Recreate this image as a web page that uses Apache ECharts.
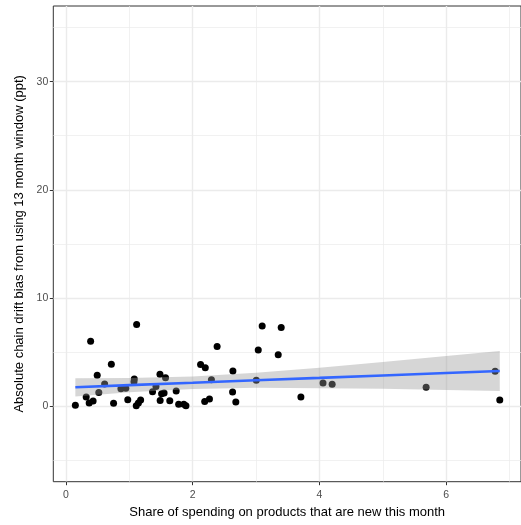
<!DOCTYPE html>
<html>
<head>
<meta charset="utf-8">
<script src="https://cdn.jsdelivr.net/npm/echarts@6/dist/echarts.min.js"></script>
<style>html,body{margin:0;padding:0;background:#fff}#c{width:521px;height:525px}</style>
</head>
<body>
<div id="c"></div>
<script>
// Scatter points: share of spending on new products (x) vs. absolute chain drift bias (y)
const pointX = [0.148,0.319,0.366,0.428,0.389,0.493,0.518,0.610,0.716,0.751,0.867,0.944,0.975,1.078,1.073,1.115,1.109,1.178,1.143,1.366,1.420,1.483,1.486,1.509,1.548,1.571,1.638,1.739,1.778,1.859,1.893,2.124,2.198,2.189,2.264,2.295,2.385,2.634,2.629,2.680,3.003,3.034,3.096,3.349,3.396,3.707,4.056,4.200,5.683,6.772,6.845];
const pointY = [0.06,0.83,0.28,0.46,6.00,2.85,1.25,2.04,3.86,0.25,1.59,1.64,0.57,2.50,2.25,7.53,0.03,0.56,0.28,1.33,1.81,2.94,0.51,1.14,1.20,2.61,0.49,1.39,0.17,0.16,0.03,3.84,3.54,0.42,0.65,2.44,5.51,3.24,1.30,0.37,2.38,5.19,7.39,4.75,7.26,0.83,2.13,2.01,1.73,3.22,0.56];

// Linear smooth with 95% band
const smoothX = [0.148,1,2,3,4,5,6,6.845];
const smoothFit = [1.73,1.93,2.15,2.38,2.60,2.83,3.05,3.24];
const smoothLow = [0.88,1.27,1.57,1.68,1.65,1.59,1.48,1.39];
const smoothHigh = [2.58,2.59,2.73,3.08,3.55,4.07,4.62,5.09];

// Ticks
const xTicks = [0,2,4,6];
const xMinor = [1,3,5,7];
const yTicks = [0,10,20,30];
const yMinor = [-5,5,15,25,35];

const points = pointX.map((x,i)=>[x,pointY[i]]);
const fitLine = smoothX.map((x,i)=>[x,smoothFit[i]]);
const bandData = smoothX.map((x,i)=>[x,smoothLow[i],smoothHigh[i]]);

const gridMajor = {color:'#EBEBEB', width:1.4, type:'solid'};
const gridMinor = {color:'#EBEBEB', width:0.7, type:'solid'};
const gridLines = []
  .concat(xTicks.map(v=>({xAxis:v, lineStyle:gridMajor})))
  .concat(xMinor.map(v=>({xAxis:v, lineStyle:gridMinor})))
  .concat(yTicks.map(v=>({yAxis:v, lineStyle:gridMajor})))
  .concat(yMinor.map(v=>({yAxis:v, lineStyle:gridMinor})));

const chart = echarts.init(document.getElementById('c'), null, {renderer:'canvas'});
const font = '"Liberation Sans", Arial, Helvetica, sans-serif';
chart.setOption({
  animation:false,
  backgroundColor:'#ffffff',
  grid:{left:53.3, top:6, right:-6.5, bottom:43.3, show:true, borderColor:'#333333', borderWidth:1, backgroundColor:'transparent'},
  xAxis:{
    type:'value', min:-0.2, max:7.18,
    name:'Share of spending on products that are new this month',
    nameLocation:'middle', nameGap:23,
    nameTextStyle:{color:'#000', fontSize:13, fontFamily:font},
    axisLine:{show:false, onZero:false},
    axisTick:{show:true, length:3.5, lineStyle:{color:'#333333', width:1}, customValues:xTicks},
    axisLabel:{color:'#4D4D4D', fontSize:10.5, fontFamily:font, margin:8, customValues:xTicks},
    splitLine:{show:false}
  },
  yAxis:{
    type:'value', min:-7, max:37,
    name:'Absolute chain drift bias from using 13 month window (ppt)',
    nameLocation:'middle', nameGap:23, nameRotate:90,
    nameTextStyle:{color:'#000', fontSize:13, fontFamily:font},
    axisLine:{show:false, onZero:false},
    axisTick:{show:true, length:3.5, lineStyle:{color:'#333333', width:1}, customValues:yTicks},
    axisLabel:{color:'#4D4D4D', fontSize:10.5, fontFamily:font, margin:5, customValues:yTicks},
    splitLine:{show:false}
  },
  series:[
    {type:'line', data:[], z:0, silent:true,
     markLine:{silent:true, z:0, symbol:['none','none'], label:{show:false}, data:gridLines, animation:false}},
    {type:'scatter', data:points, symbol:'circle', symbolSize:7, itemStyle:{color:'#000000', opacity:1}, z:6},
    {type:'custom', z:7, silent:true, data:bandData,
     renderItem:function(params, api){
       if(params.dataIndex !== 0) return null;
       const up = [], lo = [];
       for(let i=0;i<bandData.length;i++){
         up.push(api.coord([bandData[i][0], bandData[i][2]]));
         lo.push(api.coord([bandData[i][0], bandData[i][1]]));
       }
       return {type:'polygon', shape:{points:up.concat(lo.reverse())}, style:{fill:'rgba(153,153,153,0.4)'}};
     }},
    {type:'line', data:fitLine, z:8, symbol:'none', smooth:false, lineStyle:{color:'#3366FF', width:2.6}, silent:true}
  ]
});
</script>
</body>
</html>
